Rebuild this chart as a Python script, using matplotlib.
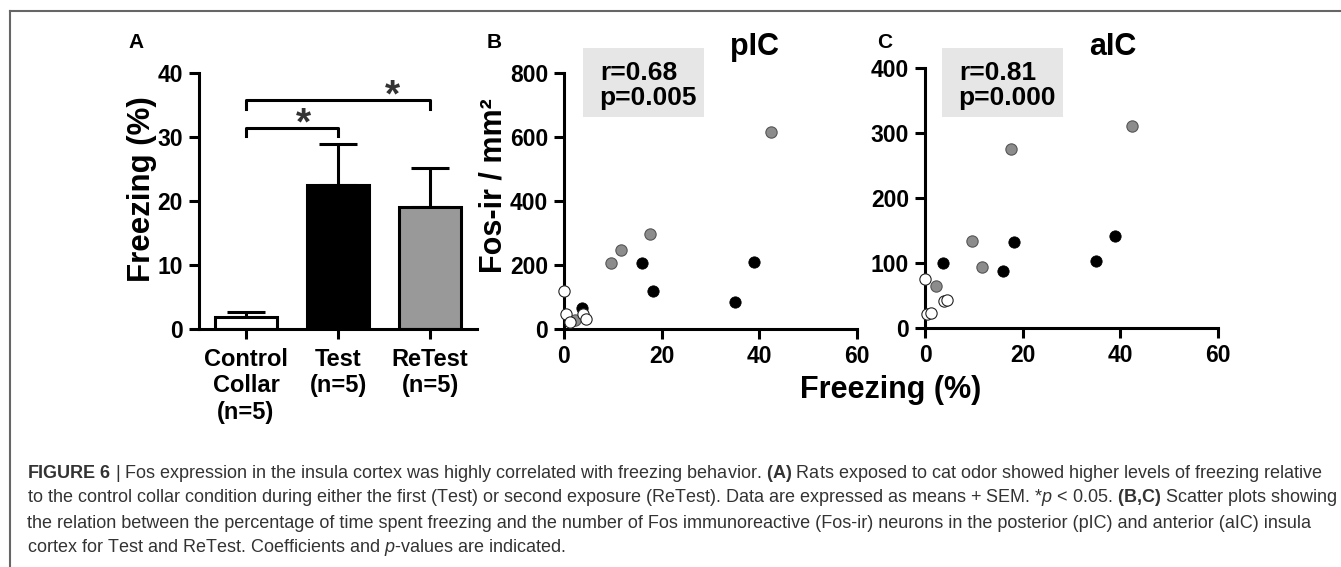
import matplotlib
matplotlib.use("Agg")
import matplotlib.pyplot as plt
from matplotlib.patches import Rectangle
from matplotlib.lines import Line2D

plt.rcParams['font.family'] = ['Liberation Sans', 'DejaVu Sans']
plt.rcParams['mathtext.fontset'] = 'custom'
plt.rcParams['mathtext.rm'] = 'Liberation Sans'
plt.rcParams['mathtext.bf'] = 'Liberation Sans:bold'
plt.rcParams['mathtext.it'] = 'Liberation Sans:italic'

# panel A data
categories = ["Control\nCollar\n(n=5)", "Test\n(n=5)", "ReTest\n(n=5)"]
freezing_mean = [1.9, 22.5, 19.1]
freezing_sem = [0.8, 6.4, 6.0]
bar_colors = ["white", "black", "#999999"]

# panels B, C data (freezing %, Fos-ir / mm2)
control_freezing = [0.0, 0.4, 1.2, 3.8, 4.6]
test_freezing = [3.7, 15.9, 18.2, 35.0, 38.9]
retest_freezing = [2.25, 9.6, 11.6, 17.7, 42.3]

pic_control = [120, 47, 23, 47, 31]
pic_test = [65, 205, 119, 85, 210]
pic_retest = [28, 205, 247, 297, 615]

aic_control = [76, 22, 23, 42, 43]
aic_test = [100, 88, 132, 103, 141]
aic_retest = [65, 134, 94, 276, 311]

W, H = 1341, 567


def fx(x):
    return x / W


def fy(y):
    return 1 - y / H


fig = plt.figure(figsize=(W / 100, H / 100), dpi=100)

LW = 2.2


def style(ax):
    for s in ['top', 'right']:
        ax.spines[s].set_visible(False)
    for s in ['left', 'bottom']:
        ax.spines[s].set_linewidth(LW)
    ax.tick_params(direction='out', length=7.5, width=LW, labelsize=16.5, pad=4)
    for lab in ax.get_xticklabels() + ax.get_yticklabels():
        lab.set_fontweight('bold')


# ---- A: bar chart
axA = fig.add_axes([fx(199), fy(329), fx(477 - 199), (329 - 73) / H])
xpos = range(len(categories))
axA.bar(xpos, freezing_mean, width=0.67, color=bar_colors, edgecolor='black',
        linewidth=LW, zorder=2)
axA.errorbar(xpos, freezing_mean, yerr=[[0, 0, 0], freezing_sem], fmt='none',
             ecolor='black', elinewidth=LW, capsize=14, capthick=LW, zorder=1)
axA.set_xlim(-0.51, 2.51)
axA.set_ylim(0, 40)
axA.set_yticks([0, 10, 20, 30, 40])
axA.set_xticks(list(xpos))
axA.set_xticklabels(categories, fontsize=17, fontweight='bold')
style(axA)
axA.tick_params(axis='x', pad=6, labelsize=17)

# significance brackets
axA.plot([0, 0, 1, 1], [30.2, 31.4, 31.4, 30.2], color='black', lw=LW,
         clip_on=False)
axA.plot([0, 0, 2, 2], [34.4, 35.8, 35.8, 34.4], color='black', lw=LW,
         clip_on=False)
axA.text(0.62, 32.0, "*", fontsize=28, fontweight='bold', color='#333333',
         ha='center', va='center')
axA.text(1.59, 36.4, "*", fontsize=28, fontweight='bold', color='#333333',
         ha='center', va='center')


# ---- B, C: scatter
def scatter_panel(ax, ctrl, test, retest, ymax, step):
    kw = dict(s=66, clip_on=False, zorder=4)
    ax.scatter(test_freezing, test, color='black', edgecolor='black',
               linewidth=0.6, **kw)
    ax.scatter(retest_freezing, retest, color='#8c8c8c', edgecolor='#555555',
               linewidth=0.8, **kw)
    ax.scatter(control_freezing, ctrl, color='white', edgecolor='#222222',
               linewidth=0.8, **kw)
    ax.set_xlim(0, 60)
    ax.set_ylim(0, ymax)
    ax.set_xticks([0, 20, 40, 60])
    ax.set_yticks(list(range(0, ymax + 1, step)))
    style(ax)


axB = fig.add_axes([fx(564), fy(329), fx(857 - 564), (329 - 73) / H])
scatter_panel(axB, pic_control, pic_test, pic_retest, 800, 200)

axC = fig.add_axes([fx(925), fy(328), fx(1218 - 925), (328 - 68) / H])
scatter_panel(axC, aic_control, aic_test, aic_retest, 400, 100)

# r / p boxes
for (x0, x1), r_txt, p_txt in [((583, 704), "r=0.68", "p=0.005"),
                               ((942, 1063), "r=0.81", "p=0.000")]:
    fig.patches.append(Rectangle((fx(x0), fy(117)), fx(x1 - x0), (117 - 48) / H,
                                 transform=fig.transFigure, facecolor='#e6e6e6',
                                 edgecolor='none', zorder=0))
    fig.text(fx(x0 + 17), fy(73), r_txt, fontsize=19, fontweight='bold',
             ha='left', va='center')
    fig.text(fx(x0 + 16), fy(98), p_txt, fontsize=19, fontweight='bold',
             ha='left', va='center')

# titles, labels, panel letters
fig.text(fx(755), fy(47), "pIC", fontsize=22, fontweight='bold', ha='center', va='center')
fig.text(fx(1113), fy(47), "aIC", fontsize=22, fontweight='bold', ha='center', va='center')
fig.text(fx(128), fy(42), "A", fontsize=15, fontweight='bold', ha='left', va='center')
fig.text(fx(487), fy(42), "B", fontsize=15, fontweight='bold', ha='left', va='center')
fig.text(fx(877), fy(42), "C", fontsize=15, fontweight='bold', ha='left', va='center')
fig.text(fx(142), fy(189), "Freezing (%)", fontsize=22.5, fontweight='bold',
         rotation=90, ha='center', va='center')
fig.text(fx(493), fy(186), "Fos-ir / mm²", fontsize=22, fontweight='bold',
         rotation=90, ha='center', va='center')
fig.text(fx(891), fy(390), "Freezing (%)", fontsize=22, fontweight='bold',
         ha='center', va='center')

# frame lines
fig.add_artist(Line2D([fx(10), 1], [fy(11), fy(11)], color='#666666', lw=1.5))
fig.add_artist(Line2D([fx(10), fx(10)], [fy(11), 0], color='#666666', lw=1.5))

# caption
caption = [
    r"$\mathbf{FIGURE\ 6}$ | Fos expression in the insula cortex was highly correlated with freezing behavior. "
    r"$\mathbf{(A)}$ Rats exposed to cat odor showed higher levels of freezing relative",
    r"to the control collar condition during either the first (Test) or second exposure (ReTest). "
    r"Data are expressed as means + SEM. *$p$ < 0.05. $\mathbf{(B{,}C)}$ Scatter plots showing",
    "the relation between the percentage of time spent freezing and the number of Fos immunoreactive "
    "(Fos-ir) neurons in the posterior (pIC) and anterior (aIC) insula",
    r"cortex for Test and ReTest. Coefficients and $p$-values are indicated.",
]
for i, line in enumerate(caption):
    fig.text(fx(27), fy(473 + 25 * i), line, fontsize=13, color='#333333',
             ha='left', va='center')

fig.savefig("out.png", dpi=100)
